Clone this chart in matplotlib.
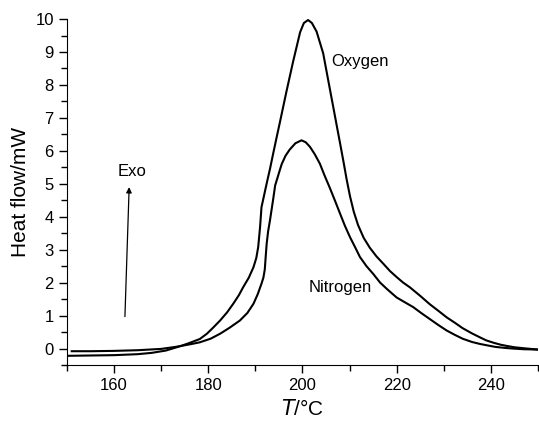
import matplotlib.pyplot as plt
from matplotlib.ticker import MultipleLocator

plt.rcParams['font.family'] = ['Liberation Sans', 'DejaVu Sans']

# Oxygen curve
oxy_t = [150, 155, 160, 165, 168, 171, 174, 176, 178.2, 179.7, 181, 182.5, 184,
         185.3, 186.5, 187.4, 188.6, 189.6, 190.2, 190.6, 191.0, 191.3, 191.7,
         192.2, 192.7, 193.1, 193.8, 194.5, 195.2, 196.6, 198.0, 199.5, 200.3,
         201.2, 202.0, 203.0, 204.4, 205.5, 206.5, 207.3, 208.0, 208.7, 209.4,
         210.1, 210.9, 211.8, 213, 214.3, 215.7, 217.2, 218.6, 220, 221.4, 222.8,
         225, 227, 229, 230.6, 232.5, 234, 236, 237.7, 239, 240.5, 242, 243.4,
         245, 247, 250]
oxy_hf = [-0.22, -0.21, -0.2, -0.17, -0.13, -0.06, 0.07, 0.17, 0.29, 0.45, 0.63, 0.85, 1.1,
          1.36, 1.62, 1.86, 2.15, 2.47, 2.75, 3.08, 3.69, 4.29, 4.55,
          4.88, 5.2, 5.45, 5.93, 6.4, 6.86, 7.8, 8.7, 9.6, 9.88,
          9.97, 9.88, 9.62, 8.96, 8.12, 7.36, 6.75, 6.22, 5.68, 5.12,
          4.62, 4.15, 3.75, 3.36, 3.06, 2.8, 2.57, 2.35, 2.17, 2.0, 1.86,
          1.6, 1.35, 1.13, 0.95, 0.77, 0.62, 0.46, 0.34, 0.25, 0.18, 0.12, 0.08,
          0.04, 0.01, -0.03]

# Nitrogen curve
nit_t = [151, 155, 160, 165, 170, 173, 175, 176.5, 178.2, 180.5, 182.5, 184.5,
         186.7, 188.3, 189.6, 190.5, 191.3, 191.7, 192.0, 192.2, 192.4, 192.7,
         193.1, 193.8, 194.2, 195.2, 195.6, 196.4, 197.3, 198.5, 199.8, 200.7,
         201.6, 202.6, 203.7, 204.7, 205.8, 206.9, 208.0, 209, 210.1, 211.2,
         212.2, 213.6, 215.0, 216.5, 218, 220, 221.8, 223.5, 225.3, 227, 228.8,
         230.6, 232.3, 234, 236, 237.7, 239.5, 241, 243, 244.7, 247, 250]
nit_hf = [-0.08, -0.08, -0.07, -0.05, -0.01, 0.05, 0.1, 0.14, 0.19, 0.3, 0.45, 0.63,
          0.85, 1.08, 1.36, 1.65, 1.97, 2.15, 2.4, 2.8, 3.18, 3.55,
          3.89, 4.55, 4.95, 5.42, 5.6, 5.85, 6.04, 6.23, 6.32, 6.26,
          6.12, 5.9, 5.61, 5.25, 4.88, 4.49, 4.09, 3.73, 3.38, 3.07,
          2.78, 2.5, 2.27, 2.0, 1.8, 1.55, 1.4, 1.26, 1.07, 0.9, 0.72,
          0.55, 0.42, 0.3, 0.2, 0.14, 0.09, 0.05, 0.02, 0.0, -0.02, -0.03]

fig = plt.figure(figsize=(5.39, 4.23), dpi=100)
ax = fig.add_axes([0.1243, 0.137, 0.8737, 0.818])

ax.plot(oxy_t, oxy_hf, color='black', linewidth=1.5)
ax.plot(nit_t, nit_hf, color='black', linewidth=1.5)

ax.text(212.2, 8.7, 'Oxygen', fontsize=12, ha='center', va='center')
ax.text(208, 1.85, 'Nitrogen', fontsize=12, ha='center', va='center')
ax.text(163.8, 5.38, 'Exo', fontsize=12, ha='center', va='center')
ax.annotate('', xy=(163.2, 4.9), xytext=(162.3, 0.97),
            arrowprops=dict(arrowstyle='-|>', color='black', lw=0.9,
                            mutation_scale=8, shrinkA=0, shrinkB=0))

ax.set_xlim(150, 250)
ax.set_ylim(-0.5, 10)
ax.xaxis.set_major_locator(MultipleLocator(20))
ax.xaxis.set_minor_locator(MultipleLocator(10))
ax.yaxis.set_major_locator(MultipleLocator(1))
ax.yaxis.set_minor_locator(MultipleLocator(0.5))
ax.tick_params(which='major', direction='out', length=6, width=1, labelsize=12)
ax.tick_params(which='minor', direction='out', length=4, width=1)

ax.spines['top'].set_visible(False)
ax.spines['right'].set_visible(False)

ax.set_xlabel('$\\mathit{T}$/°C', fontsize=15)
ax.set_ylabel('Heat flow/mW', fontsize=15)

fig.savefig('out.png', dpi=100)
